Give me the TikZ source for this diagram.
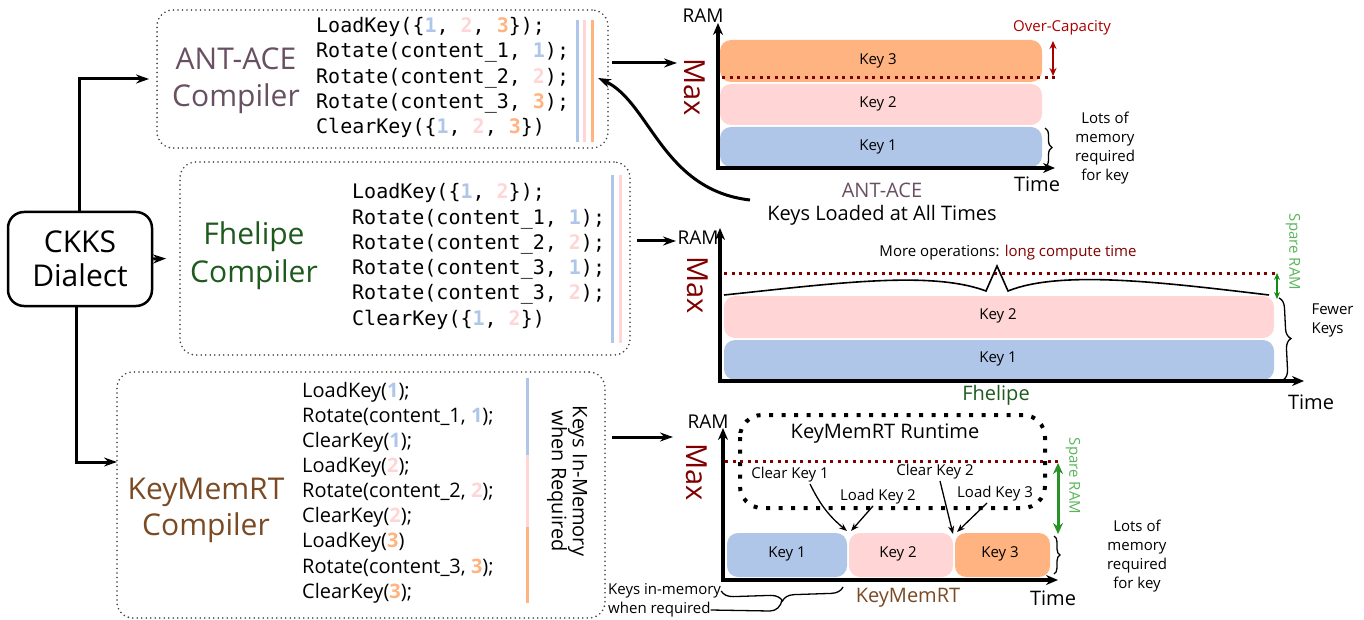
\documentclass[tikz,border=0pt]{standalone}
\usepackage{fontspec}
\setmainfont{Open Sans}
\newfontfamily\codefont{DejaVu Sans Mono}
\usetikzlibrary{arrows.meta,decorations.pathreplacing,calc}
\definecolor{kblue}{RGB}{175,198,233}
\definecolor{kpink}{RGB}{255,213,213}
\definecolor{korange}{RGB}{255,179,128}
\definecolor{maxred}{RGB}{128,0,0}
\definecolor{ocred}{RGB}{170,0,0}
\definecolor{antcol}{RGB}{104,80,98}
\definecolor{fhcol}{RGB}{30,90,30}
\definecolor{kmcol}{RGB}{122,74,36}
\definecolor{sparetxt}{RGB}{90,180,90}
\definecolor{sparearr}{RGB}{20,140,20}
\definecolor{sparearrb}{RGB}{40,145,40}
\newcommand{\numB}[1]{\textcolor{kblue}{\textbf{#1}}}
\newcommand{\numP}[1]{\textcolor{kpink}{\textbf{#1}}}
\newcommand{\numO}[1]{\textcolor{korange}{\textbf{#1}}}
\tikzset{
  cbox/.style={draw=black!75, line width=1.8pt, dash pattern=on 0pt off 4.5pt, line cap=round, rounded corners=16pt, inner sep=0pt},
  arr/.style={line width=3pt, -{Stealth[length=13pt,width=9pt]}},
  axisline/.style={line width=4pt, line join=miter, {Stealth[length=12pt,width=10pt]}-{Stealth[length=12pt,width=10pt]}},
  maxline/.style={maxred, line width=3pt, dash pattern=on 3pt off 4.5pt},
  keybar/.style={rounded corners=11pt},
  keytxt/.style={font=\fontsize{15}{18}\selectfont},
  lbl/.style={font=\fontsize{15}{19}\selectfont, align=center},
  axlbl/.style={font=\fontsize{19}{22}\selectfont},
  timelbl/.style={font=\fontsize{20}{22}\selectfont},
  maxlbl/.style={rotate=-90, text=maxred, font=\fontsize{29}{30}\selectfont},
  clbl/.style={font=\fontsize{30}{37}\selectfont, align=center},
  codebar/.style={line width=3pt},
  brc/.style={line width=1.3pt, decorate},
  smallarr/.style={line width=1.3pt, -{Stealth[length=8pt,width=6pt]}},
  sparestyle/.style={sparearr, {Stealth[length=7pt,width=6pt]}-{Stealth[length=7pt,width=6pt]}},
  sparebig/.style={sparearrb, line width=3pt, {Stealth[length=11pt,width=10pt]}-{Stealth[length=11pt,width=10pt]}},
}
\begin{document}
\begin{tikzpicture}[x=1pt,y=-1pt]
\useasboundingbox (0,0) rectangle (1364,620);

% ---------- CKKS ----------
\node[draw, line width=2.5pt, rounded corners=16pt, minimum width=144pt, minimum height=94pt, inner sep=0pt, align=center, font=\fontsize{30}{34}\selectfont] (ckks) at (80,259) {CKKS\\Dialect};

% ---------- compiler boxes ----------
\node[cbox, minimum width=451pt, minimum height=138pt] (ant) at (382.5,79) {};
\node[cbox, minimum width=450pt, minimum height=193pt] (fh) at (405,258.5) {};
\node[cbox, minimum width=488pt, minimum height=246pt] (km) at (361,495) {};

\node[clbl, text=antcol] (antlbl) at (236,81) {ANT-ACE\\Compiler};
\node[clbl, text=fhcol, font=\fontsize{30}{38}\selectfont] (fhlbl) at (254,256) {Fhelipe\\Compiler};
\node[clbl, text=kmcol, font=\fontsize{30}{36}\selectfont] (kmlbl) at (206,510) {KeyMemRT\\Compiler};

\node[anchor=west, align=left, inner sep=0pt, font=\codefont\fontsize{20}{25.3}\selectfont] (antcode) at (316,77.5) {LoadKey(\{\numB{1}, \numP{2}, \numO{3}\});\\Rotate(content\_1, \numB{1});\\Rotate(content\_2, \numP{2});\\Rotate(content\_3, \numO{3});\\ClearKey(\{\numB{1}, \numP{2}, \numO{3}\})};

\node[anchor=west, align=left, inner sep=0pt, font=\codefont\fontsize{20}{25.3}\selectfont] (fhcode) at (352,256.5) {LoadKey(\{\numB{1}, \numP{2}\});\\Rotate(content\_1, \numB{1});\\Rotate(content\_2, \numP{2});\\Rotate(content\_3, \numB{1});\\Rotate(content\_3, \numP{2});\\ClearKey(\{\numB{1}, \numP{2}\})};

\node[anchor=west, align=left, inner sep=0pt, font=\fontsize{20}{25.1}\selectfont] (kmcode) at (302,492.5) {LoadKey(\numB{1});\\Rotate(content\_1, \numB{1});\\ClearKey(\numB{1});\\LoadKey(\numP{2});\\Rotate(content\_2, \numP{2});\\ClearKey(\numP{2});\\LoadKey(\numO{3})\\Rotate(content\_3, \numO{3});\\ClearKey(\numO{3});};

% code bars
\draw[codebar, kblue] (577,20) -- (577,142);
\draw[codebar, kpink] (584,20) -- (584,142);
\draw[codebar, korange] (592,20) -- (592,142);
\draw[codebar, kblue] (612,175) -- (612,343);
\draw[codebar, kpink] (620,175) -- (620,343);
\draw[codebar, kblue] (527,378) -- (527,455);
\draw[codebar, kpink] (527,455) -- (527,527);
\draw[codebar, korange] (527,527) -- (527,603);
\node[rotate=-90, align=center, font=\fontsize{20}{21}\selectfont] (kimr) at (567,481) {Keys In-Memory\\when Required};

% ---------- arrows from CKKS ----------
\coordinate (kmin) at (117,462);
\draw[arr] ([xshift=-1pt]ckks.north) |- ([xshift=-7pt]ant.west);
\draw[arr] (ckks.east) -- ([xshift=-13pt]fh.west);
\draw[arr] ([xshift=-4pt]ckks.south) |- (kmin);

% ---------- arrows to charts ----------
\coordinate (a1) at (612,63);  \coordinate (a2) at (677,63);
\coordinate (b1) at (637,241); \coordinate (b2) at (676,241);
\coordinate (c1) at (612,437); \coordinate (c2) at (673,437);
\draw[arr] (a1) -- (a2);
\draw[arr] (b1) -- (b2);
\draw[arr] (c1) -- (c2);

% ---------- top chart (ANT-ACE) ----------
\fill[korange, keybar] (720,40) rectangle (1042,82);
\fill[kpink, keybar] (720,84) rectangle (1042,125);
\fill[kblue, keybar] (720,127) rectangle (1042,167);
\node[keytxt] (t3) at (878,61) {Key 3};
\node[keytxt] (t2) at (878,104) {Key 2};
\node[keytxt] (t1) at (878,147) {Key 1};
\draw[axisline] (718,23) -- (718,168) -- (1055,168);
\draw[maxline] (722,78) -- (1055,78);
\node[axlbl] (ram1) at (703,16) {RAM};
\node[maxlbl] (max1) at (695,87) {Max};
\node[timelbl] (time1) at (1037,184) {Time};
\node[timelbl, text=antcol] (antchart) at (882,190) {ANT-ACE};
\node[timelbl] (klat) at (882,215) {Keys Loaded at All Times};
\node[font=\fontsize{15}{18}\selectfont, text=ocred] (oc) at (1062,28) {Over-Capacity};
\draw[ocred, line width=2pt, {Stealth[length=8pt,width=7pt]}-{Stealth[length=8pt,width=7pt]}] (1053,41) -- (1053,76);
\draw[brc, decoration={brace, amplitude=7pt}] (1045,128) -- (1045,167);
\node[lbl] (lots1) at (1105,148) {Lots of\\memory\\required\\for key};
\coordinate (klatstart) at (750,200);
\coordinate (klatend) at (598,78);
\draw[arr] (klatstart) .. controls (662,190) and (650,102) .. (klatend);

% ---------- middle chart (Fhelipe) ----------
\fill[kpink, keybar] (724,296) rectangle (1274,338);
\fill[kblue, keybar] (724,340) rectangle (1274,380);
\node[keytxt] (f2) at (998,316) {Key 2};
\node[keytxt] (f1) at (998,359) {Key 1};
\draw[axisline] (720,228) -- (720,381) -- (1304,381);
\draw[maxline] (724,273) -- (1276,273);
\draw[line width=1.6pt] (724,295) .. controls (830,284) and (930,270) .. (986,291) -- (997,266) -- (1008,291) .. controls (1060,270) and (1160,282) .. (1269,295);
\node[axlbl] (ram2) at (698,238) {RAM};
\node[maxlbl] (max2) at (698,285) {Max};
\node[font=\fontsize{15}{18}\selectfont] (moreop) at (1008,253) {More operations: \textcolor{maxred}{long compute time}};
\node[timelbl, text=fhcol] (fhchart) at (996,395) {Fhelipe};
\node[timelbl] (time2) at (1311,402) {Time};
\draw[sparestyle, line width=1.5pt] (1277,273) -- (1277,299);
\node[rotate=-90, text=sparetxt, font=\fontsize{15}{18}\selectfont] (spare2) at (1293,252) {Spare RAM};
\draw[brc, decoration={brace, amplitude=10pt}] (1279,298) -- (1283,380);
\node[anchor=west, align=left, font=\fontsize{15}{19}\selectfont] (fewer) at (1308,320) {Fewer\\Keys};

% ---------- bottom chart (KeyMemRT) ----------
\draw[line width=4pt, dash pattern=on 4pt off 8.5pt, rounded corners=22pt] (740,415) rectangle (1045,508);
\node[timelbl] (rtlbl) at (885,434) {KeyMemRT Runtime};
\fill[kblue, keybar] (727,533) rectangle (847,577);
\fill[kpink, keybar] (849,533) rectangle (953,577);
\fill[korange, keybar] (955,533) rectangle (1050,577);
\node[keytxt] (k1) at (787,554) {Key 1};
\node[keytxt] (k2) at (898,554) {Key 2};
\node[keytxt] (k3) at (1000,554) {Key 3};
\draw[axisline] (723,428) -- (723,580) -- (1058,580);
\draw[maxline] (725,461) -- (1058,461);
\node[axlbl] (ram3) at (708,422) {RAM};
\node[maxlbl] (max3) at (697,472) {Max};
\node[timelbl] (time3) at (1053,598) {Time};
\node[timelbl, text=kmcol] (kmchart) at (908,598) {KeyMemRT};
\node[keytxt] (ck1) at (790,475) {Clear Key 1};
\node[keytxt] (lk2) at (878,497) {Load Key 2};
\node[keytxt] (ck2) at (935,472) {Clear Key 2};
\node[keytxt] (lk3) at (995,494) {Load Key 3};
\coordinate (g12) at (847,531);
\coordinate (g12b) at (851,531);
\coordinate (g23) at (953,534);
\coordinate (g23b) at (957,532);
\draw[smallarr] (810,484) to[bend right=12] (g12);
\draw[smallarr] (873,506) -- (g12b);
\draw[smallarr] (940,481) -- (g23);
\draw[smallarr] (987,503) -- (g23b);
\draw[sparebig] (1058,463) -- (1058,534);
\node[rotate=-90, text=sparetxt, font=\fontsize{15}{18}\selectfont] (spare3) at (1073,476) {Spare RAM};
\draw[brc, decoration={brace, amplitude=6pt}] (1054,536) -- (1054,574);
\node[lbl] (lots3) at (1137,556) {Lots of\\memory\\required\\for key};
\node[keytxt, anchor=west, inner sep=0pt] (kim) at (608,591) {Keys in-memory};
\node[keytxt, anchor=west, inner sep=0pt] (wr) at (608,610) {when required};
\draw[brc, decoration={brace, amplitude=12pt}] (843,587) -- (kim.east);
\draw[line width=1.3pt] (wr.east) -- (770,611) to[out=0,in=-100] (782,600);
\end{tikzpicture}
\end{document}
